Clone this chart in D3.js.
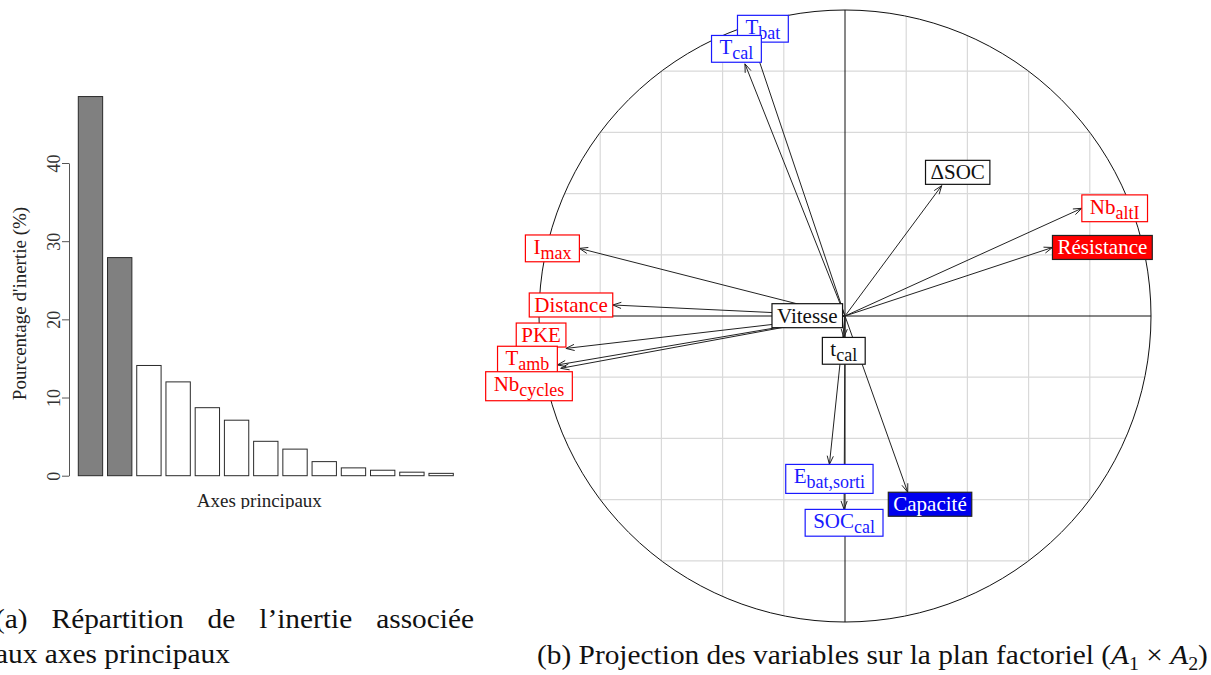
<!DOCTYPE html>
<html>
<head>
<meta charset="utf-8">
<script src="https://cdn.jsdelivr.net/npm/d3@7"></script>
<style>
  html, body { margin: 0; padding: 0; background: #fff; }
  svg { display: block; }
</style>
</head>
<body>
<svg id="fig" width="1211" height="675"></svg>
<script>
// ---- (a) scree plot: share of inertia per principal axis (%) ----
const axisNames = ["1", "2", "3", "4", "5", "6", "7", "8", "9", "10", "11", "12", "13"];
const inertiaPct = [48.5, 27.9, 14.1, 12.0, 8.7, 7.1, 4.4, 3.4, 1.8, 1.0, 0.7, 0.45, 0.3];
const keptAxes = 2;
const pctTicks = [0, 10, 20, 30, 40];

// ---- (b) correlation circle: coordinates of the variables on A1 x A2 ----
const varMain = ["T", "T", "I", "Distance", "Vitesse", "PKE", "T", "Nb", "t",
                 "\u0394SOC", "Nb", "Résistance", "E", "SOC", "Capacité"];
const varSub  = ["bat", "cal", "max", "", "", "", "amb", "cycles", "cal",
                 "", "altI", "", "bat,sorti", "cal", ""];
const dim1 = [-0.301, -0.327, -0.868, -0.759, -0.008, -0.912, -0.940, -0.929, -0.004,
               0.316, 0.774, 0.678, -0.051, -0.003, 0.205];
const dim2 = [0.895, 0.824, 0.221, 0.036, 0.001, -0.106, -0.160, -0.171, -0.070,
              0.426, 0.352, 0.224, -0.485, -0.632, -0.576];
const varGroup = ["blue", "blue", "red", "red", "black", "red", "red", "red", "black",
                  "black", "red", "red", "blue", "blue", "blue"];
const highlighted = [false, false, false, false, false, false, false, false, false,
                     false, false, true, false, false, true];
const gridTicks = [-0.8, -0.6, -0.4, -0.2, 0.2, 0.4, 0.6, 0.8];

// label shifts (px) that keep crowded boxes apart
const labelNudge = [[10, 0], [-8.5, -1.6], [0, 0], [0, 0], [0, 0], [0, -13.4], [0, -5.3], [11.6, 17.9],
                    [0, 0], [16, -1.3], [0, 0], [0, 0], [0, 0], [0, 0], [22.3, 0]];

const SERIF = '"Liberation Serif", "Times New Roman", serif';
const svg = d3.select("#fig");

// =========================== (a) ===========================
const xBar = d3.scaleBand().domain(axisNames).range([78.3, 453.3])
  .paddingInner(1 / 6).paddingOuter(0);
const yBar = d3.scaleLinear().domain([0, 40]).range([475.7, 163]);

const gA = svg.append("g");
gA.selectAll("rect.bar")
  .data(inertiaPct)
  .join("rect")
  .attr("class", "bar")
  .attr("x", (d, i) => xBar(axisNames[i]))
  .attr("width", xBar.bandwidth())
  .attr("y", d => yBar(d))
  .attr("height", d => yBar(0) - yBar(d))
  .attr("fill", (d, i) => i < keptAxes ? "#808080" : "#ffffff")
  .attr("stroke", "#2a2a2a")
  .attr("stroke-width", 1);

const gAxis = gA.append("g")
  .attr("transform", "translate(69,0)")
  .call(d3.axisLeft(yBar).tickValues(pctTicks).tickSize(7).tickSizeOuter(0).tickFormat(d3.format("d")))
  .attr("font-family", SERIF)
  .attr("font-size", 18);
gAxis.select(".domain").attr("stroke", "#555");
gAxis.selectAll(".tick line").attr("stroke", "#555");
gAxis.selectAll(".tick text")
  .attr("x", null).attr("dy", null)
  .attr("transform", "translate(-9,0) rotate(-90)")
  .attr("text-anchor", "middle")
  .attr("fill", "#333");

gA.append("text")
  .attr("transform", "translate(26,303.5) rotate(-90)")
  .attr("text-anchor", "middle")
  .attr("font-family", SERIF).attr("font-size", 19)
  .attr("fill", "#222")
  .text("Pourcentage d'inertie (%)");

svg.append("clipPath").attr("id", "clipA")
  .append("rect").attr("x", 0).attr("y", 0).attr("width", 480).attr("height", 509);
gA.append("text")
  .attr("clip-path", "url(#clipA)")
  .attr("x", 259.3).attr("y", 507)
  .attr("text-anchor", "middle")
  .attr("font-family", SERIF).attr("font-size", 19)
  .attr("fill", "#222")
  .text("Axes principaux");

// =========================== (b) ===========================
const xC = d3.scaleLinear().domain([-1, 1]).range([539, 1151]);
const yC = d3.scaleLinear().domain([-1, 1]).range([622, 10]);
const R = xC(1) - xC(0);
const cx0 = xC(0), cy0 = yC(0);

const gB = svg.append("g");

svg.append("clipPath").attr("id", "clipCircle")
  .append("circle").attr("cx", cx0).attr("cy", cy0).attr("r", R);

const grid = gB.append("g").attr("clip-path", "url(#clipCircle)")
  .attr("stroke", "#d9d9d9").attr("stroke-width", 1.2);
grid.selectAll("line.v").data(gridTicks).join("line").attr("class", "v")
  .attr("x1", d => xC(d)).attr("x2", d => xC(d)).attr("y1", yC(1)).attr("y2", yC(-1));
grid.selectAll("line.h").data(gridTicks).join("line").attr("class", "h")
  .attr("y1", d => yC(d)).attr("y2", d => yC(d)).attr("x1", xC(-1)).attr("x2", xC(1));

gB.append("circle").attr("cx", cx0).attr("cy", cy0).attr("r", R)
  .attr("fill", "none").attr("stroke", "#111").attr("stroke-width", 1);
gB.append("line").attr("x1", xC(-1)).attr("x2", xC(1)).attr("y1", cy0).attr("y2", cy0)
  .attr("stroke", "#111").attr("stroke-width", 1);
gB.append("line").attr("x1", cx0).attr("x2", cx0).attr("y1", yC(1)).attr("y2", yC(-1))
  .attr("stroke", "#111").attr("stroke-width", 1);

// arrows from the origin to every variable
const headLen = 9, headAng = 20 * Math.PI / 180;
const gArrows = gB.append("g").attr("stroke", "#222").attr("stroke-width", 1).attr("fill", "none");
dim1.forEach((v, i) => {
  const tx = xC(dim1[i]), ty = yC(dim2[i]);
  gArrows.append("line").attr("x1", cx0).attr("y1", cy0).attr("x2", tx).attr("y2", ty);
  const len = Math.hypot(tx - cx0, ty - cy0);
  if (len > headLen) {
    const a = Math.atan2(ty - cy0, tx - cx0);
    const p1 = [tx - headLen * Math.cos(a - headAng), ty - headLen * Math.sin(a - headAng)];
    const p2 = [tx - headLen * Math.cos(a + headAng), ty - headLen * Math.sin(a + headAng)];
    gArrows.append("path").attr("d", `M${p1[0]},${p1[1]}L${tx},${ty}L${p2[0]},${p2[1]}`);
  }
});

// boxed labels (box height from the font metrics, relative to the baseline)
const MAIN_SIZE = 21, SUB_SIZE = 18, SUB_SHIFT = 5;
const colorOf = { red: "#ff0000", blue: "#1a1aff", black: "#111111" };
const fillOf = { red: "#ff0000", blue: "#0000ee", black: "#111111" };
const gLabels = gB.append("g");
dim1.forEach((v, i) => {
  const g = gLabels.append("g");
  const col = colorOf[varGroup[i]];
  const hasSub = varSub[i] !== "";
  const rect = g.append("rect");
  const t = g.append("text")
    .attr("x", 0).attr("y", 0)
    .attr("font-family", SERIF).attr("font-size", MAIN_SIZE)
    .attr("text-anchor", "middle")
    .attr("fill", highlighted[i] ? "#ffffff" : col);
  t.append("tspan").text(varMain[i]);
  if (hasSub) t.append("tspan").attr("font-size", SUB_SIZE).attr("dy", SUB_SHIFT).text(varSub[i]);
  const bb = t.node().getBBox();
  const padX = hasSub ? 8 : 5;
  const top = -19;
  const bottom = hasSub ? SUB_SHIFT + (/[gjpqy,]/.test(varSub[i]) ? 5 : 2.8) : 5;
  const w = bb.width + 2 * padX, h = bottom - top;
  const rx = bb.x - padX, ry = top;
  rect.attr("x", rx).attr("y", ry).attr("width", w).attr("height", h)
    .attr("fill", highlighted[i] ? fillOf[varGroup[i]] : "#ffffff")
    .attr("stroke", highlighted[i] ? "#222" : col)
    .attr("stroke-width", 1.2);
  const tx = xC(dim1[i]), ty = yC(dim2[i]);
  const ux = tx - cx0, uy = ty - cy0;
  let cx, cy;
  if (Math.abs(ux) >= Math.abs(uy)) { cy = ty; cx = ux < 0 ? tx - w / 2 : tx + w / 2; }
  else { cx = tx; cy = uy < 0 ? ty - h / 2 : ty + h / 2; }
  cx += labelNudge[i][0]; cy += labelNudge[i][1];
  g.attr("transform", `translate(${cx - (rx + w / 2)},${cy - (ry + h / 2)})`);
});

// =========================== captions ===========================
const CAP = { size: 28 };
function captionText(parent) {
  return parent.append("text").attr("font-family", SERIF).attr("font-size", CAP.size).attr("fill", "#111");
}
// (b)
const gCapB = svg.append("g");
const capB = captionText(gCapB);
capB.append("tspan").text("(b) Projection des variables sur la plan factoriel (");
capB.append("tspan").attr("font-style", "italic").text("A");
capB.append("tspan").attr("font-size", 19).attr("dy", 6).text("1");
capB.append("tspan").attr("dy", -6).text(" \u00d7 ");
capB.append("tspan").attr("font-style", "italic").text("A");
capB.append("tspan").attr("font-size", 19).attr("dy", 6).text("2");
capB.append("tspan").attr("dy", -6).text(")");
const wB = capB.node().getBBox().width;
const sx = 671 / wB;
gCapB.attr("transform", `translate(537,664) scale(${sx},1)`);

// (a), justified first line
const gCapA1 = svg.append("g").attr("transform", `translate(-5,628) scale(${sx},1)`);
const capA1 = captionText(gCapA1).text("(a) Répartition de l\u2019inertie associée");
const natA1 = capA1.node().getComputedTextLength();
capA1.style("word-spacing", `${(479 / sx - natA1) / 4}px`);
const gCapA2 = svg.append("g").attr("transform", `translate(-5,663) scale(${sx},1)`);
captionText(gCapA2).text("aux axes principaux");
</script>
</body>
</html>
